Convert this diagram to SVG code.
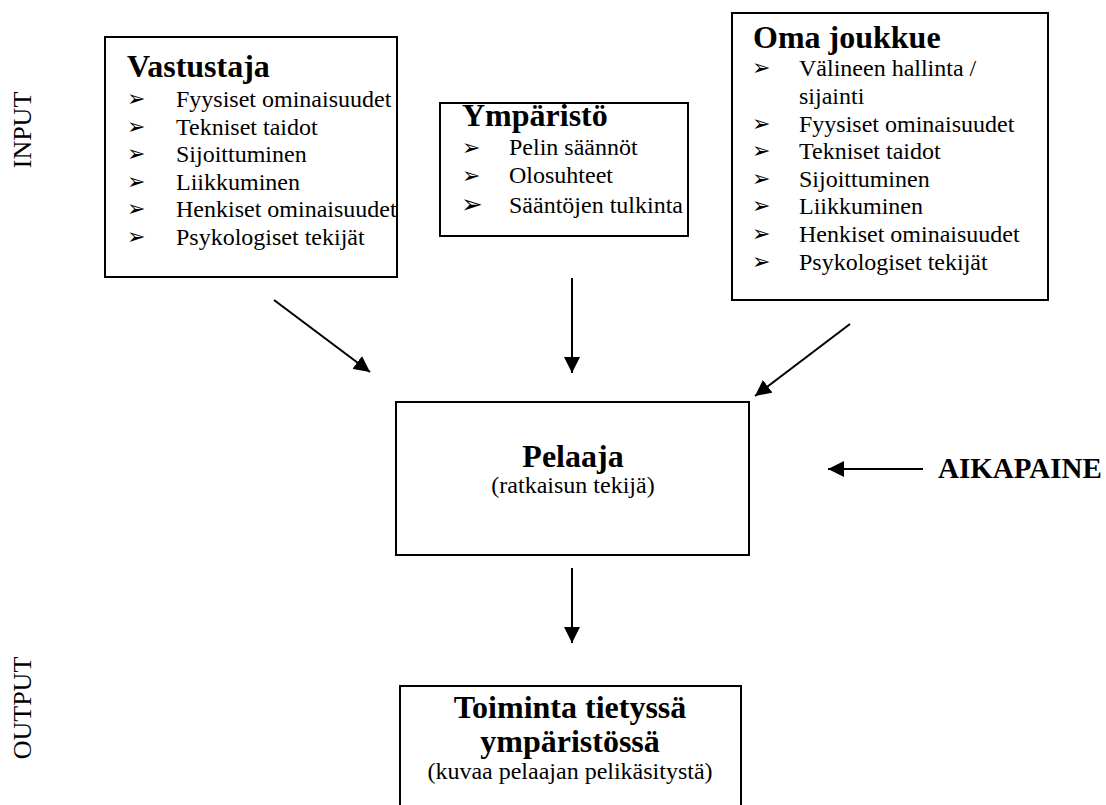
<svg xmlns="http://www.w3.org/2000/svg" width="1106" height="805" viewBox="0 0 1106 805">
<style>
.box{fill:#fff;stroke:#000;stroke-width:2}
.h{font-family:"Liberation Serif","Times New Roman",serif;font-size:32px;font-weight:bold;fill:#000}
.b{font-family:"Liberation Serif","Times New Roman",serif;font-size:24px;fill:#000}
.bl{font-family:"DejaVu Sans",sans-serif;font-size:22px;fill:#000}
.side{font-family:"Liberation Serif","Times New Roman",serif;font-size:26px;fill:#000}
.c{stroke:#000;stroke-width:2;fill:none}
</style>
<defs>
<marker id="ah" markerUnits="userSpaceOnUse" markerWidth="18" markerHeight="16" refX="16" refY="8" orient="auto">
<path d="M0,0 L16,8 L0,16 Z" fill="#000"/>
</marker>
</defs>
<rect width="1106" height="805" fill="#fff"/>
<text class="side" transform="translate(31,130) rotate(-90)" text-anchor="middle">INPUT</text>
<text class="side" transform="translate(31,708) rotate(-90)" text-anchor="middle">OUTPUT</text>
<g id="vastustaja">
<rect class="box" x="105" y="37" width="292" height="240"/>
<text class="h" x="127" y="77">Vastustaja</text>
<text class="bl" x="127" y="106">➢</text><text class="bl" x="127" y="134">➢</text><text class="bl" x="127" y="161">➢</text><text class="bl" x="127" y="189">➢</text><text class="bl" x="127" y="216">➢</text><text class="bl" x="127" y="244">➢</text>
<text class="b" x="176" y="107">Fyysiset ominaisuudet</text>
<text class="b" x="176" y="135">Tekniset taidot</text>
<text class="b" x="176" y="162">Sijoittuminen</text>
<text class="b" x="176" y="190">Liikkuminen</text>
<text class="b" x="176" y="217">Henkiset ominaisuudet</text>
<text class="b" x="176" y="245">Psykologiset tekijät</text>
</g>
<g id="ymparisto">
<rect class="box" x="440" y="103" width="248" height="133"/>
<text class="h" x="462" y="126">Ympäristö</text>
<text class="bl" x="462" y="155">➢</text><text class="bl" x="462" y="183">➢</text><text class="bl" x="461" y="213" style="font-size:26px">➢</text>
<text class="b" x="509" y="155">Pelin säännöt</text>
<text class="b" x="509" y="183">Olosuhteet</text>
<text class="b" x="509" y="213">Sääntöjen tulkinta</text>
</g>
<g id="oma">
<rect class="box" x="732" y="13" width="316" height="287"/>
<text class="h" x="753" y="48">Oma joukkue</text>
<text class="bl" x="752" y="75">➢</text><text class="bl" x="752" y="131">➢</text><text class="bl" x="752" y="158">➢</text><text class="bl" x="752" y="186">➢</text><text class="bl" x="752" y="213">➢</text><text class="bl" x="752" y="241">➢</text><text class="bl" x="752" y="269">➢</text>
<text class="b" x="799" y="76">Välineen hallinta /</text>
<text class="b" x="799" y="104">sijainti</text>
<text class="b" x="799" y="132">Fyysiset ominaisuudet</text>
<text class="b" x="799" y="159">Tekniset taidot</text>
<text class="b" x="799" y="187">Sijoittuminen</text>
<text class="b" x="799" y="214">Liikkuminen</text>
<text class="b" x="799" y="242">Henkiset ominaisuudet</text>
<text class="b" x="799" y="270">Psykologiset tekijät</text>
</g>
<g id="pelaaja">
<rect class="box" x="396" y="402" width="353" height="153"/>
<text class="h" x="573" y="467" text-anchor="middle">Pelaaja</text>
<text class="b" x="573" y="493" text-anchor="middle">(ratkaisun tekijä)</text>
</g>
<g id="toiminta">
<rect class="box" x="400" y="686" width="341" height="140"/>
<text class="h" x="570" y="718" text-anchor="middle">Toiminta tietyssä</text>
<text class="h" x="570" y="752" text-anchor="middle">ympäristössä</text>
<text class="b" x="570" y="779" text-anchor="middle">(kuvaa pelaajan pelikäsitystä)</text>
</g>
<g id="aikapaine">
<text class="h" x="938" y="478" style="font-size:29px">AIKAPAINE</text>
</g>
<g id="connectors">
<line class="c" x1="274" y1="300" x2="370" y2="372" marker-end="url(#ah)"/>
<line class="c" x1="572" y1="278" x2="572" y2="373" marker-end="url(#ah)"/>
<line class="c" x1="850" y1="324" x2="755" y2="396" marker-end="url(#ah)"/>
<line class="c" x1="572" y1="568" x2="572" y2="643" marker-end="url(#ah)"/>
<line class="c" x1="923" y1="469" x2="828" y2="469" marker-end="url(#ah)"/>
</g>
</svg>
